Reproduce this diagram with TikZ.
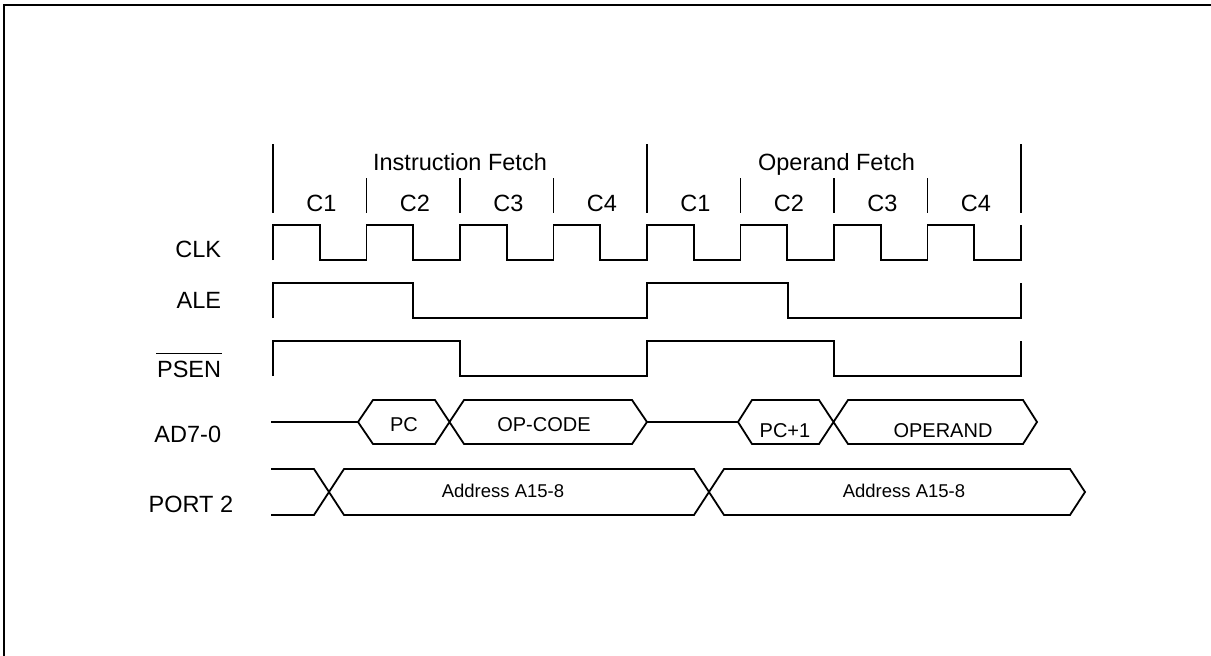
\documentclass[tikz,border=0pt]{standalone}
\usepackage{fontspec}
\setmainfont{Liberation Sans}
\begin{document}
\begin{tikzpicture}[x=1pt,y=-1pt,line width=1.8pt,line join=miter,
  lbl/.style={font=\fontsize{23.5}{28}\selectfont,inner sep=0pt},
  buslbl/.style={font=\fontsize{20}{24}\selectfont,inner sep=0pt},
  addrlbl/.style={font=\fontsize{18.5}{22}\selectfont,inner sep=0pt},
  wave/.style={line width=1.8pt}]
\useasboundingbox (0,0) rectangle (1211,656);
% frame
\draw[line width=2.2pt] (4,660) -- (4,5) -- (1215,5);
% cycle markers
\foreach \x in {273,647,1021} \draw (\x,144) -- (\x,213);
\foreach \x in {366.5,460,553.5,740.5,834,927.5} \draw (\x,178) -- (\x,213);
% headers
\node[lbl,anchor=base] (ifetch) at (460,170.5) {Instruction Fetch};
\node[lbl,anchor=base] (ofetch) at (836.5,170.5) {Operand Fetch};
\node[lbl,anchor=base] (c1a) at (321.5,211) {C1};
\node[lbl,anchor=base] (c2a) at (415,211) {C2};
\node[lbl,anchor=base] (c3a) at (508.5,211) {C3};
\node[lbl,anchor=base] (c4a) at (602,211) {C4};
\node[lbl,anchor=base] (c1b) at (695.5,211) {C1};
\node[lbl,anchor=base] (c2b) at (789,211) {C2};
\node[lbl,anchor=base] (c3b) at (882.5,211) {C3};
\node[lbl,anchor=base] (c4b) at (976,211) {C4};
% signal names
\node[lbl,anchor=base east] (clk) at (222,257) {CLK};
\node[lbl,anchor=base east] (ale) at (222,308) {ALE};
\node[lbl,anchor=base east] (psen) at (222,377) {PSEN};
\draw[line width=1.5pt] ([yshift=6pt]psen.north west) -- ([yshift=6pt]psen.north east);
\node[lbl,anchor=base east] (ad) at (222,442) {AD7-0};
\node[lbl,anchor=base east] (port) at (234,512) {PORT 2};
% CLK
\draw[wave] (273,260) -- (273,225)
  \foreach \k in {0,...,7} { -- ({273+93.5*\k+46.75},225) -- ++(0,35) -- ++(46.75,0) -- ++(0,-35) };
% ALE
\draw[wave] (273,318) -- (273,283) -- (413.25,283) -- (413.25,318) -- (647,318) -- (647,283)
  -- (787.75,283) -- (787.75,318) -- (1021,318) -- (1021,283);
% PSEN
\draw[wave] (273,376) -- (273,341) -- (460,341) -- (460,376) -- (647,376) -- (647,341)
  -- (834,341) -- (834,376) -- (1021,376) -- (1021,341);
% AD7-0
\draw[wave] (271,422) -- (358,422);
\draw[wave] (358,422) -- (373,400) -- (435,400) -- (464,444) -- (632,444) -- (647,422)
  -- (632,400) -- (464,400) -- (435,444) -- (373,444) -- cycle;
\draw[wave] (647,422) -- (738,422);
\draw[wave] (738,422) -- (752,400) -- (819,400) -- (848,444) -- (1023,444) -- (1037,422)
  -- (1023,400) -- (848,400) -- (819,444) -- (752,444) -- cycle;
\node[buslbl,anchor=base] (pc) at (404,431) {PC};
\node[buslbl,anchor=base] (opcode) at (544,431) {OP-CODE};
\node[buslbl,anchor=base] (pc1) at (785,437) {PC+1};
\node[buslbl,anchor=base] (operand) at (943,437) {OPERAND};
% PORT 2
\draw[wave] (271,469) -- (314,469) -- (344,515) -- (694,515) -- (724,469) -- (1070,469)
  -- (1085,492) -- (1070,515) -- (724,515) -- (694,469) -- (344,469) -- (314,515) -- (271,515);
\node[addrlbl,anchor=base] (addr1) at (503,497) {Address A15-8};
\node[addrlbl,anchor=base] (addr2) at (904,497) {Address A15-8};
\end{tikzpicture}
\end{document}
